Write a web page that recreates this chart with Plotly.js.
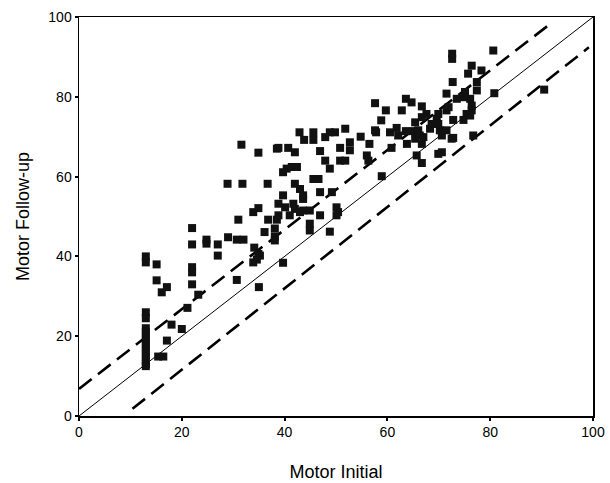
<!DOCTYPE html>
<html>
<head>
<meta charset="utf-8">
<script src="https://cdn.plot.ly/plotly-3.0.1.min.js"></script>
<style>html,body{margin:0;padding:0;background:#fff;}#chart{width:610px;height:483px;}</style>
</head>
<body>
<div id="chart"></div>
<script>
// Scatter points: Motor Initial (x) vs Motor Follow-up (y)
const motorInitial = [
  13,13,13,13,13,13,13,13,13,13,13,13,13,13,13,
  15.1,15.1,16.1,17.1,22,22,22,27,23.2,21.1,18,20,17.1,15.4,16.4,30.7,33.9,34.9,35,34.1,35.2,34.6,
  31.6,34.9,38.5,28.9,31.8,36.7,38.8,33.9,34.9,31,36.8,38.5,22,36.1,38.1,38.1,38.1,29,30.7,32,24.8,24.8,22,27,39.7,
  57.6,59.7,63.6,64.7,62.8,58.8,42.9,43.8,45.6,45.6,47.9,48.8,49.8,51.8,54.8,57.8,56.5,60.5,61.8,62.1,63.6,65,63.8,60.8,38.8,40.7,42,46.9,50.8,52.7,52.7,65.4,
  47.9,50.8,51.8,48.8,56,56.3,40.4,41.4,42.4,39.7,42,43,43.6,43.6,45.6,46.6,46.9,49.2,58.9,39.7,40.1,41.7,42,43,43.6,44.9,41,38.8,46.9,50.1,50.4,50.1,44.9,44.9,48.8,57.6,
  72.6,72.6,80.6,76.4,75.7,78.3,72.7,77.4,77.4,80.8,90.5,71.5,75.1,74.8,76.1,76.4,76.4,66.7,67.6,69.9,69.6,69.9,71.5,72.8,74.8,75.4,68.3,68.6,70.2,71.5,72.8,76.7,66,66.3,66.7,70.6,72.5,65.7,66.7,69.9,70.6,71.9,73.5,76.1,65.4,66.7,67
];
const motorFollowUp = [
  40,38.5,26,24.5,22,21,20,19,18,17,16,15,14,13,12.5,
  38,34,31,32.3,37.3,36,33,40.2,30.4,27.1,22.9,21.8,18.9,14.9,14.9,34.1,38.5,40.6,32.3,42.2,40.2,39.2,
  68,66,67,58.2,58.2,58.2,53.2,51.1,52.1,49.2,49.2,49.2,47.1,46.1,47,45,44,44.8,44.2,44.2,44.2,43.2,43,43,38.4,
  78.4,76.6,79.5,78.6,76.6,74.1,71.1,69.2,71.1,69.2,69.9,71.1,71.1,72,70,71.1,68.2,71.1,72.2,70.3,71.4,71.4,68.2,67.2,67.2,67.2,66.1,66.4,67.2,68.6,66.6,69.5,
  64,64,64,62,65.3,64,62,62.4,62.4,61.1,58.2,56.9,55.3,54.4,59.4,59.4,56.1,56.1,60.1,55.3,52.3,53.2,51.9,51.1,51.5,51.5,50.3,50.3,50.3,52.3,51.1,50.3,48.2,46.5,46.2,71.6,
  90.8,89.5,91.6,87.8,85.8,86.6,83.7,83.7,81.6,80.9,81.8,80.8,81.2,79.9,79.5,77.8,76.6,77.6,75.7,75.7,74.5,73.2,76.6,74.2,74.2,75.7,72,73.2,71.6,71.6,69.7,70.3,71.6,70.3,68.2,70.3,69.5,65.3,63.4,65.7,66.1,77.4,79.5,75.3,73.6,74.9,69.9
];
// Reference lines
const identityX = [0, 100];
const identityY = [0, 100];
const upperX = [0, 92];
const upperY = [6.8, 98.6];
const lowerX = [10.4, 99.2];
const lowerY = [1.8, 92.4];
const tickVals = [0, 20, 40, 60, 80, 100];
const tickText = ['0', '20', '40', '60', '80', '100'];
const xTitle = 'Motor Initial';
const yTitle = 'Motor Follow-up';

const FONT = 'Liberation Sans, Arial, sans-serif';

const traces = [
  {x: identityX, y: identityY, mode: 'lines', line: {color: '#000', width: 1}, hoverinfo: 'skip'},
  {x: upperX, y: upperY, mode: 'lines', line: {color: '#000', width: 2.6, dash: '16px,8px'}, hoverinfo: 'skip'},
  {x: lowerX, y: lowerY, mode: 'lines', line: {color: '#000', width: 2.6, dash: '16px,8px'}, hoverinfo: 'skip'},
  {x: motorInitial, y: motorFollowUp, mode: 'markers', type: 'scatter',
   marker: {symbol: 'square', size: 8, color: '#111'}}
];

const axisCommon = {
  range: [0, 100], autorange: false, showgrid: false, zeroline: false,
  showline: true, linecolor: '#000', linewidth: 1.5, mirror: true,
  ticks: 'outside', ticklen: 3, tickwidth: 2, tickcolor: '#000',
  tickvals: tickVals, ticktext: tickText,
  tickfont: {family: FONT, size: 14, color: '#000'}
};

const layout = {
  width: 610, height: 483,
  margin: {l: 79, r: 17, t: 17, b: 67},
  paper_bgcolor: '#fff', plot_bgcolor: '#fff',
  showlegend: false,
  xaxis: Object.assign({}, axisCommon, {
    title: {text: xTitle, font: {family: FONT, size: 18, color: '#000'}, standoff: 26}
  }),
  yaxis: Object.assign({}, axisCommon, {
    title: {text: yTitle, font: {family: FONT, size: 18, color: '#000'}, standoff: 14}
  })
};

Plotly.newPlot('chart', traces, layout, {displayModeBar: false, staticPlot: true});
</script>
</body>
</html>
